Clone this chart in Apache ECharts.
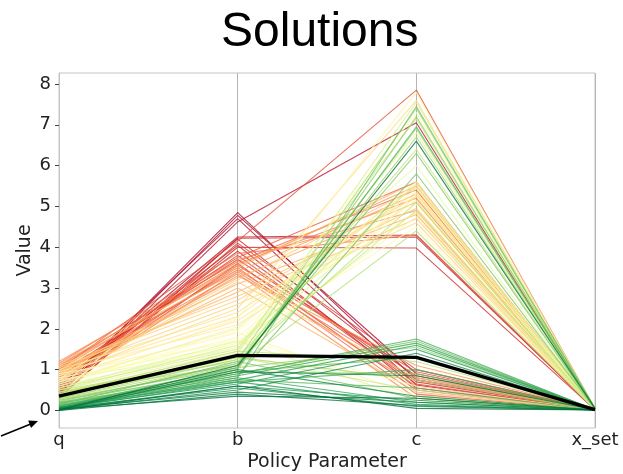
<!DOCTYPE html>
<html>
<head>
<meta charset="utf-8">
<script src="https://cdn.jsdelivr.net/npm/echarts@6/dist/echarts.min.js"></script>
<style>
html,body{margin:0;padding:0;background:#fff;}
#chart{width:623px;height:474px;}
</style>
</head>
<body>
<div id="chart"></div>
<script>
// Axes (categories) of the parallel-coordinates plot
const categories = ['q', 'b', 'c', 'x_set'];
// y tick labels
const yTicks = [0, 1, 2, 3, 4, 5, 6, 7, 8];

// One entry per solution, ordered from red end to green end of the colormap
const qVals = [
  0.45, 0.40, 0.55, 0.38, 0.60, 0.50, 0.30, 0.65, 0.45, 0.70, 0.35, 0.80,
  0.90, 0.55, 1.00, 0.75, 1.05, 0.85, 1.10, 0.95, 1.15, 0.60, 1.00, 0.90, 1.20, 0.80,
  1.05, 1.10, 0.95, 1.00, 1.15, 0.85, 1.00, 0.90, 1.10, 0.75, 1.05, 0.95, 0.85, 1.00,
  0.90, 0.80, 0.95, 0.70, 0.85, 0.75, 0.65, 0.90, 0.60, 0.80, 0.70, 0.55, 0.75, 0.65,
  0.60, 0.50, 0.55, 0.45, 0.50, 0.40, 0.55, 0.45, 0.35, 0.50, 0.40, 0.30, 0.45, 0.35,
  0.30, 0.25, 0.28, 0.20, 0.25, 0.22, 0.18, 0.20, 0.15, 0.18, 0.12, 0.15, 0.10, 0.12,
  0.10, 0.08, 0.05, 0.06, 0.04, 0.08, 0.03, 0.05, 0.02, 0.06, 0.04, 0.02, 0.00, 0.03, 0.01, 0.00
];
const bVals = [
  4.85, 4.78, 4.70, 4.62, 4.25, 4.20, 4.22, 4.05, 4.00, 3.90, 4.10, 3.80,
  3.70, 3.60, 4.15, 3.55, 3.75, 3.50, 3.65, 3.45, 3.85, 3.40, 3.60, 3.35, 3.70, 3.30,
  3.55, 3.40, 3.25, 3.10, 3.50, 3.00, 2.90, 3.20, 2.80, 3.15, 2.70, 2.60, 2.50, 2.40,
  2.30, 2.20, 2.10, 2.00, 1.90, 2.25, 1.80, 1.70, 1.95, 1.60, 1.75, 1.65, 1.50, 2.05,
  1.55, 1.45, 1.70, 1.40, 1.60, 1.35, 1.50, 1.30, 1.25, 1.20, 1.45, 1.15, 1.10, 1.30,
  1.25, 1.10, 1.05, 1.00, 0.95, 1.15, 0.90, 0.85, 1.20, 0.80, 0.95, 0.75, 1.05, 0.70,
  0.90, 0.85, 0.80, 0.75, 0.70, 0.65, 0.60, 0.55, 0.50, 1.00, 0.45, 0.95, 0.40, 0.35, 1.10, 0.60
];
const cVals = [
  0.75, 0.90, 0.62, 7.05, 4.30, 0.80, 4.25, 0.55, 3.98, 0.70, 1.00, 0.65,
  0.85, 0.50, 7.85, 0.95, 5.60, 0.40, 5.40, 0.75, 4.30, 0.60, 5.20, 0.30, 4.90, 1.10,
  5.50, 5.30, 5.10, 4.80, 5.60, 0.45, 4.95, 5.45, 4.70, 0.80, 5.25, 4.60, 7.60, 5.35,
  5.50, 5.15, 4.85, 5.60, 0.35, 7.80, 5.30, 4.50, 5.05, 7.30, 0.60, 5.45, 4.75, 6.00,
  5.25, 6.80, 0.25, 7.55, 5.55, 4.90, 7.15, 0.50, 6.40, 5.10, 1.20, 6.90, 4.40, 0.75,
  7.40, 6.70, 1.55, 7.20, 0.90, 6.30, 1.70, 5.80, 0.30, 7.45, 1.30, 0.55, 6.95, 1.00,
  1.75, 1.65, 0.20, 1.60, 0.15, 1.50, 0.25, 0.10, 1.40, 0.35, 0.20, 0.85, 0.12, 0.30, 6.60, 0.05
];
const xsetVals = [
  0.02, 0.03, 0.01, 0.04, 0.02, 0.02, 0.03, 0.01, 0.02, 0.02, 0.03, 0.01,
  0.02, 0.01, 0.05, 0.02, 0.03, 0.01, 0.04, 0.02, 0.03, 0.01, 0.02, 0.01, 0.03, 0.02,
  0.03, 0.03, 0.02, 0.02, 0.03, 0.01, 0.02, 0.03, 0.02, 0.02, 0.03, 0.02, 0.05, 0.03,
  0.03, 0.02, 0.02, 0.03, 0.01, 0.05, 0.03, 0.02, 0.02, 0.05, 0.01, 0.03, 0.02, 0.04,
  0.03, 0.04, 0.01, 0.05, 0.03, 0.02, 0.05, 0.01, 0.04, 0.03, 0.02, 0.04, 0.02, 0.01,
  0.05, 0.04, 0.02, 0.05, 0.01, 0.04, 0.02, 0.04, 0.01, 0.06, 0.02, 0.01, 0.05, 0.02,
  0.02, 0.02, 0.01, 0.02, 0.01, 0.02, 0.01, 0.01, 0.02, 0.01, 0.01, 0.02, 0.01, 0.01, 0.05, 0.01
];
// highlighted (black) solution
const bestLine = [0.35, 1.35, 1.30, 0.02];

// RdYlGn colormap
const rdylgn = ['#a50026','#d73027','#f46d43','#fdae61','#fee08b','#ffffbf','#d9ef8b','#a6d96a','#66bd63','#1a9850','#006837'];
function hex2rgb(h){return [parseInt(h.substr(1,2),16),parseInt(h.substr(3,2),16),parseInt(h.substr(5,2),16)];}
function cmap(t){
  const p = t*(rdylgn.length-1);
  const i = Math.min(Math.floor(p), rdylgn.length-2);
  const f = p - i;
  const a = hex2rgb(rdylgn[i]), b = hex2rgb(rdylgn[i+1]);
  const c = a.map((v,k)=>Math.round(v+(b[k]-v)*f));
  return 'rgb('+c.join(',')+')';
}

const N = qVals.length;
const series = [];
for (let i = 0; i < N; i++) {
  series.push({
    type: 'line',
    data: [qVals[i], bVals[i], cVals[i], xsetVals[i]],
    symbol: 'none',
    silent: true,
    animation: false,
    z: 2,
    lineStyle: { width: 1.1, color: cmap(i/(N-1)), opacity: 0.78 }
  });
}
series.push({
  type: 'line',
  data: bestLine,
  symbol: 'none',
  silent: true,
  animation: false,
  z: 5,
  lineStyle: { width: 3.2, color: '#000', opacity: 1 }
});

const chart = echarts.init(document.getElementById('chart'), null, {renderer: 'canvas'});
chart.setOption({
  animation: false,
  backgroundColor: '#fff',
  title: {
    text: 'Solutions',
    left: 216,
    top: 4,
    textStyle: { fontFamily: 'Liberation Sans', fontSize: 48, fontWeight: 'normal', color: '#000' }
  },
  grid: {
    left: 59, right: 28, top: 73, bottom: 46,
    outerBoundsMode: 'none',
    containLabel: false,
    show: true, borderColor: '#c4c4c4', borderWidth: 1, backgroundColor: 'transparent'
  },
  xAxis: {
    type: 'category',
    data: categories,
    boundaryGap: false,
    name: 'Policy Parameter',
    nameLocation: 'middle',
    nameGap: 25,
    nameMoveOverlap: false,
    nameTextStyle: { fontFamily: 'DejaVu Sans', fontSize: 19, color: '#222' },
    axisLine: { show: false },
    axisTick: { show: false },
    axisLabel: { fontFamily: 'DejaVu Sans', fontSize: 18, color: '#222', margin: 3 },
    splitLine: { show: true, lineStyle: { color: '#b5b5b5', width: 1 } }
  },
  yAxis: {
    type: 'value',
    min: -0.43,
    max: 8.27,
    name: 'Value',
    nameLocation: 'middle',
    nameGap: 24,
    nameMoveOverlap: false,
    nameRotate: 90,
    nameTextStyle: { fontFamily: 'DejaVu Sans', fontSize: 19, color: '#222' },
    axisLine: { show: true, lineStyle: { color: '#c4c4c4' } },
    axisTick: { show: true, length: 4, customValues: yTicks, lineStyle: { color: '#444' } },
    axisLabel: { fontFamily: 'DejaVu Sans', fontSize: 18, color: '#222', margin: 8, customValues: yTicks },
    splitLine: { show: false }
  },
  graphic: [
    { type: 'line', shape: { x1: 1, y1: 436, x2: 32, y2: 423.5 }, style: { stroke: '#000', lineWidth: 1.5 } },
    { type: 'polygon', shape: { points: [[38, 421], [28.2, 420.6], [31.0, 428.0]] }, style: { fill: '#000' } }
  ],
  series: series
});
</script>
</body>
</html>
